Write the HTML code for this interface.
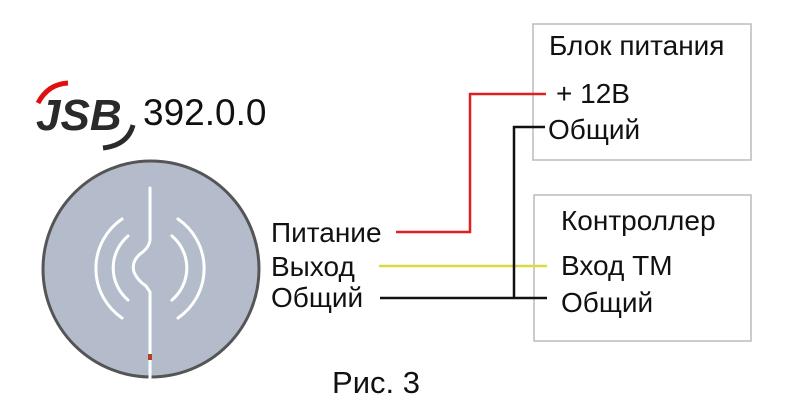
<!DOCTYPE html>
<html><head><meta charset="utf-8"><style>
body{margin:0;background:#fff;width:788px;height:409px;overflow:hidden}
svg text{font-family:"Liberation Sans",sans-serif;fill:#111}
</style></head><body>
<svg width="788" height="409" viewBox="0 0 788 409" xmlns="http://www.w3.org/2000/svg">
<!-- logo -->
<path d="M38 103 Q48 84 68 83" stroke="#e01010" stroke-width="5" fill="none"/>
<text x="36" y="130" font-size="44" font-weight="bold" font-style="italic" style="fill:#2a2a2a">JSB</text>
<path d="M103 148 Q128 145 133 125" stroke="#2a2a2a" stroke-width="5" fill="none"/>
<text x="143" y="125" font-size="37">392.0.0</text>
<!-- device -->
<circle cx="151" cy="269" r="108" fill="#b4bccc" stroke="#555" stroke-width="3"/>
<g stroke="#fff" stroke-width="3" fill="none" stroke-linecap="round">
<path d="M150 188 L150 240 Q149 248 140 254 Q131 262 134 272 Q137 280 146 286 L150 292 L150 380"/>
<path d="M122 219 A60 60 0 0 0 122 318"/>
<path d="M128 236 A42 42 0 0 0 128 300"/>
<path d="M178 219 A60 60 0 0 1 178 318"/>
<path d="M172 236 A42 42 0 0 1 172 300"/>
</g>
<rect x="148" y="354" width="4" height="6" fill="#b04020"/>
<!-- boxes -->
<rect x="533" y="24" width="218" height="136" fill="none" stroke="#bbb" stroke-width="1.5"/>
<rect x="534" y="195" width="217" height="146" fill="none" stroke="#bbb" stroke-width="1.5"/>
<!-- wires -->
<polyline points="396,232 470,232 470,94 546,94" fill="none" stroke="#e02020" stroke-width="2.5"/>
<line x1="379" y1="266" x2="547" y2="266" stroke="#d8dc40" stroke-width="2.5"/>
<line x1="380" y1="298" x2="547" y2="298" stroke="#111" stroke-width="2.5"/>
<polyline points="545,127 514,127 514,298" fill="none" stroke="#111" stroke-width="2.5"/>
<!-- labels -->
<g font-size="28">
<text x="549" y="55">Блок питания</text>
<text x="556" y="103">+ 12В</text>
<text x="548" y="139">Общий</text>
<text x="561" y="230">Контроллер</text>
<text x="561" y="275">Вход ТМ</text>
<text x="561" y="312">Общий</text>
<text x="271" y="242">Питание</text>
<text x="271" y="276">Выход</text>
<text x="271" y="307">Общий</text>
</g>
<text x="376" y="393" font-size="31" text-anchor="middle">Рис. 3</text>
</svg>
</body></html>
